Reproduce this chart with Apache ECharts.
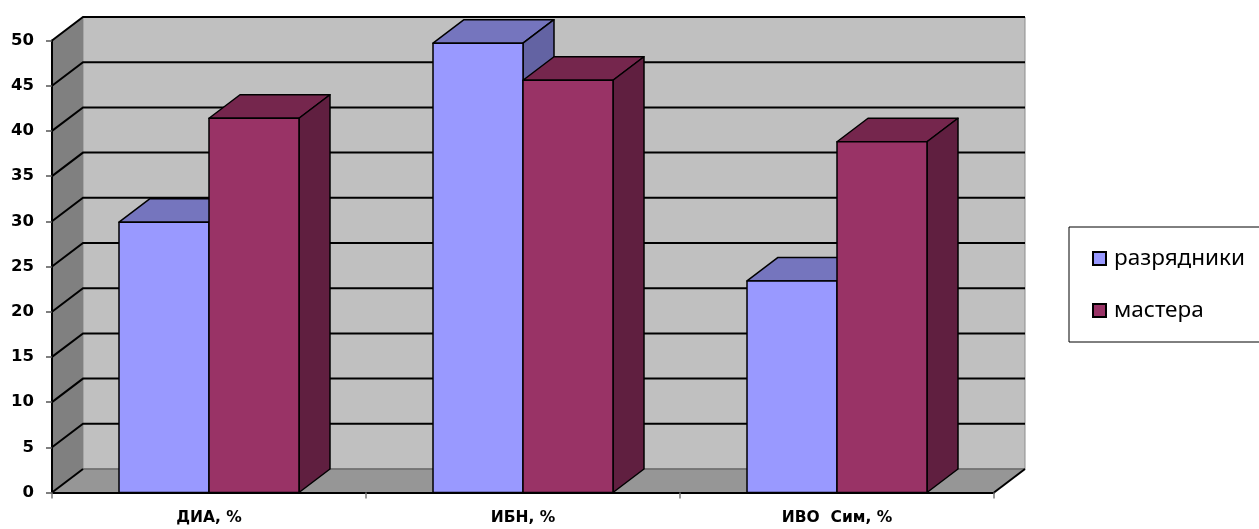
<!DOCTYPE html>
<html>
<head>
<meta charset="utf-8">
<script src="https://cdn.jsdelivr.net/npm/echarts@6/dist/echarts.min.js"></script>
<style>
  html, body { margin: 0; padding: 0; background: #fff; }
  #chart { width: 1259px; height: 529px; }
</style>
</head>
<body>
<div id="chart"></div>
<script>
// Categories and series values
const categories = ['ДИА, %', 'ИБН, %', 'ИВО  Сим, %'];
const seriesNames = ['разрядники', 'мастера'];
const razryadniki = [29.9, 49.7, 23.4];
const mastera = [41.4, 45.6, 38.8];
// Value axis ticks
const yMin = 0, yMax = 50, yStep = 5;

// 3D look: depth offset of the box and bar width as share of a category band
const DEPTH = [31, -23.5];
const BAR_FRAC = 0.2866;

const palettes = [
  { front: '#9999FF', top: '#7575BE', side: '#6363A3' },
  { front: '#993366', top: '#75264D', side: '#601F40' }
];

function tickValues() {
  const t = [];
  for (let v = yMin; v <= yMax + 1e-9; v += yStep) t.push(v);
  return t;
}

// Back wall, side wall, floor and the gridlines running over them
function renderWalls(params, api) {
  const cs = params.coordSys;
  const x0 = cs.x, x1 = cs.x + cs.width;
  const yb = api.coord([0, yMin])[1];
  const yt = api.coord([0, yMax])[1];
  const dx = DEPTH[0], dy = DEPTH[1];
  const children = [];
  children.push({ type: 'rect', shape: { x: x0 + dx, y: yt + dy, width: x1 - x0, height: yb - yt },
    style: { fill: '#C0C0C0', stroke: '#8c8c8c', lineWidth: 1 } });
  children.push({ type: 'polygon', shape: { points: [[x0, yb], [x0, yt], [x0 + dx, yt + dy], [x0 + dx, yb + dy]] },
    style: { fill: '#808080' } });
  children.push({ type: 'polygon', shape: { points: [[x0, yb], [x1, yb], [x1 + dx, yb + dy], [x0 + dx, yb + dy]] },
    style: { fill: '#969696' } });
  children.push({ type: 'line', shape: { x1: x0 + dx, y1: yb + dy, x2: x1 + dx, y2: yb + dy },
    style: { stroke: '#6a6a6a', lineWidth: 1.5 } });
  tickValues().forEach(function (v) {
    const y = api.coord([0, v])[1];
    const pts = v === yMin
      ? [[x0, y], [x0 + dx, y + dy]]
      : [[x0, y], [x0 + dx, y + dy], [x1 + dx, y + dy]];
    children.push({ type: 'polyline', shape: { points: pts },
      style: { stroke: '#000', lineWidth: 2, fill: null } });
  });
  children.push({ type: 'line', shape: { x1: x1, y1: yb, x2: x1 + dx, y2: yb + dy },
    style: { stroke: '#000', lineWidth: 2 } });
  return { type: 'group', children: children };
}

// One 3D column: top, right side, front
function makeBarRenderer(k) {
  return function (params, api) {
    const idx = api.value(0), val = api.value(1);
    const band = api.size([1, 0])[0];
    const w = band * BAR_FRAC;
    const c = api.coord([idx, val]);
    const base = api.coord([idx, yMin]);
    const left = c[0] - w + k * w;
    const right = left + w;
    const top = c[1], bot = base[1];
    const dx = DEPTH[0], dy = DEPTH[1];
    const p = palettes[k];
    const st = { stroke: '#000', lineWidth: 1.5, lineJoin: 'round' };
    return { type: 'group', children: [
      { type: 'polygon', shape: { points: [[left, top], [right, top], [right + dx, top + dy], [left + dx, top + dy]] },
        style: Object.assign({}, st, { fill: p.top }) },
      { type: 'polygon', shape: { points: [[right, bot], [right, top], [right + dx, top + dy], [right + dx, bot + dy]] },
        style: Object.assign({}, st, { fill: p.side }) },
      { type: 'rect', shape: { x: left, y: top, width: w, height: bot - top },
        style: Object.assign({}, st, { fill: p.front }) }
    ] };
  };
}

const chart = echarts.init(document.getElementById('chart'), null, { renderer: 'canvas' });
chart.setOption({
  animation: false,
  backgroundColor: '#ffffff',
  grid: { left: 52, top: 40.5, width: 942, height: 452 },
  xAxis: {
    type: 'category',
    data: categories,
    z: 10,
    axisLine: { lineStyle: { color: '#000', width: 2 } },
    axisTick: { show: true, length: 6, lineStyle: { color: '#7a7a7a', width: 1.5 } },
    axisLabel: { margin: 17, color: '#000', fontWeight: 'bold', fontSize: 15.5,
      fontFamily: 'DejaVu Sans' },
    splitLine: { show: false }
  },
  yAxis: {
    type: 'value',
    min: yMin, max: yMax, interval: yStep,
    z: 10,
    axisLine: { show: true, lineStyle: { color: '#000', width: 2 } },
    axisTick: { show: true, length: 6, lineStyle: { color: '#555', width: 1.5 } },
    axisLabel: { margin: 18, color: '#000', fontWeight: 'bold', fontSize: 16.5,
      fontFamily: 'DejaVu Sans' },
    splitLine: { show: false }
  },
  legend: {
    data: seriesNames,
    orient: 'vertical',
    left: 1069, top: 227,
    padding: [20, 60, 20, 23],
    itemGap: 29,
    itemWidth: 13, itemHeight: 13,
    icon: 'rect',
    borderColor: '#000', borderWidth: 1,
    itemStyle: { borderColor: '#000', borderWidth: 2 },
    textStyle: { fontSize: 22.5, lineHeight: 20, color: '#000', fontFamily: 'Noto Sans', padding: [0, 0, 0, 3] }
  },
  series: [
    {
      type: 'custom', name: 'box', silent: true, z: 1,
      renderItem: renderWalls,
      data: [[0, 0]]
    },
    {
      type: 'custom', name: seriesNames[0], z: 2,
      itemStyle: { color: palettes[0].front },
      renderItem: makeBarRenderer(0),
      data: categories.map(function (_, i) { return [i, razryadniki[i]]; })
    },
    {
      type: 'custom', name: seriesNames[1], z: 3,
      itemStyle: { color: palettes[1].front },
      renderItem: makeBarRenderer(1),
      data: categories.map(function (_, i) { return [i, mastera[i]]; })
    }
  ]
});
</script>
</body>
</html>
